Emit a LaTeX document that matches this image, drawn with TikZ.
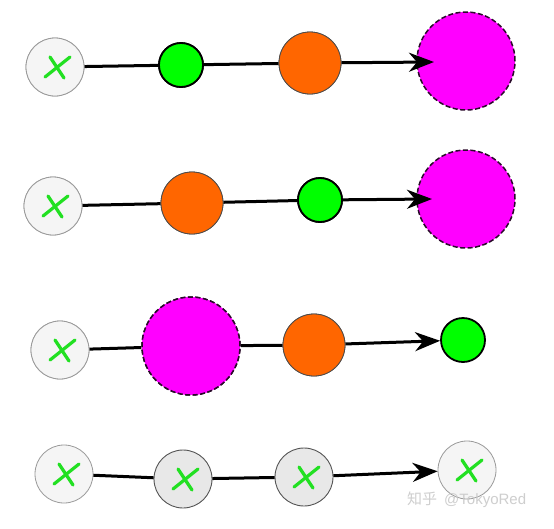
\documentclass[tikz,border=0pt]{standalone}
\usepackage{fontspec}
\newfontfamily\cjk{Noto Sans CJK SC}
\usetikzlibrary{arrows.meta,calc}
\definecolor{xfill}{HTML}{F5F5F5}
\definecolor{xdraw}{HTML}{9A9A9A}
\definecolor{gfill}{HTML}{E8E8E8}
\definecolor{gdraw}{HTML}{555555}
\definecolor{grn}{HTML}{00FF00}
\definecolor{org}{HTML}{FF6600}
\definecolor{mag}{HTML}{FF00FF}
\definecolor{magdraw}{HTML}{2A0A2A}
\definecolor{cross}{HTML}{22E022}
\tikzset{
  xnode/.style={circle, fill=xfill, draw=xdraw, line width=0.8pt, minimum size=58pt, inner sep=0pt},
  xnodedark/.style={circle, fill=gfill, draw=gdraw, line width=0.9pt, minimum size=58pt, inner sep=0pt},
  gnode/.style={circle, fill=grn, draw=black, line width=1.8pt, minimum size=44pt, inner sep=0pt},
  onode/.style={circle, fill=org, draw=black!70, line width=0.8pt, minimum size=62pt, inner sep=0pt},
  mnode/.style={circle, fill=mag, draw=magdraw, dash pattern=on 5pt off 2.5pt, line width=1.5pt, minimum size=98pt, inner sep=0pt},
  link/.style={line width=3pt, black},
  arr/.style={link, -{Stealth[length=25pt,width=19pt,inset=8pt]}},
  crossmark/.style={cross, line width=3.2pt, line cap=round},
}
\newcommand{\crossat}[1]{%
  \draw[crossmark] ($(#1)+(-10,10)$) -- ($(#1)+(15,-10)$);
  \draw[crossmark] ($(#1)+(-5,-10)$) -- ($(#1)+(9,11)$);
}
\begin{document}
\begin{tikzpicture}[x=1pt,y=-1pt]
\useasboundingbox (0,0) rectangle (554,528);
\fill[white] (0,0) rectangle (554,528);
% Row 1
\node[mnode] (m1) at (466,61) {};
\node[xnode] (x1) at (55,67) {};
\node[gnode] (g1) at (181,65) {};
\node[onode] (o1) at (310,63) {};
\coordinate (t1) at (434,62);
\draw[link] (x1) -- (g1);
\draw[link] (g1) -- (o1);
\draw[arr] (o1) -- (t1);
\node[xnode] at (x1) {};
\node[gnode] at (g1) {};
\node[onode] at (o1) {};
\crossat{x1}
% Row 2
\node[mnode] (m2) at (466,199) {};
\node[xnode] (x2) at (53,206) {};
\node[onode] (o2) at (192,203) {};
\node[gnode] (g2) at (320,200) {};
\coordinate (t2) at (432,199);
\draw[link] (x2) -- (o2);
\draw[link] (o2) -- (g2);
\draw[arr] (g2) -- (t2);
\node[xnode] at (x2) {};
\node[onode] at (o2) {};
\node[gnode] at (g2) {};
\crossat{x2}
% Row 3
\node[xnode] (x3) at (60,350) {};
\node[mnode] (m3) at (191,346) {};
\node[onode] (o3) at (314,345) {};
\node[gnode] (g3) at (463,340) {};
\draw[link] (x3) -- (m3);
\draw[link] (m3) -- (o3);
\draw[arr] (o3) -- (g3);
\node[xnode] at (x3) {};
\node[mnode] at (m3) {};
\node[onode] at (o3) {};
\crossat{x3}
% Row 4
\node[xnode] (x4) at (64,474) {};
\node[xnodedark] (y4) at (183,479) {};
\node[xnodedark] (z4) at (304,477) {};
\node[xnode] (w4) at (467,470) {};
\draw[link] (x4) -- (y4);
\draw[link] (y4) -- (z4);
\draw[arr] (z4) -- (w4);
\crossat{x4}
\crossat{y4}
\crossat{z4}
\crossat{w4}
% watermark
\node[text=gray!45, opacity=0.85, font=\fontsize{15}{15}\selectfont, anchor=west, inner sep=0pt] (wm) at (407,500) {{\cjk 知乎} \,{\fontspec{Liberation Sans}@TokyoRed}};
\end{tikzpicture}
\end{document}
